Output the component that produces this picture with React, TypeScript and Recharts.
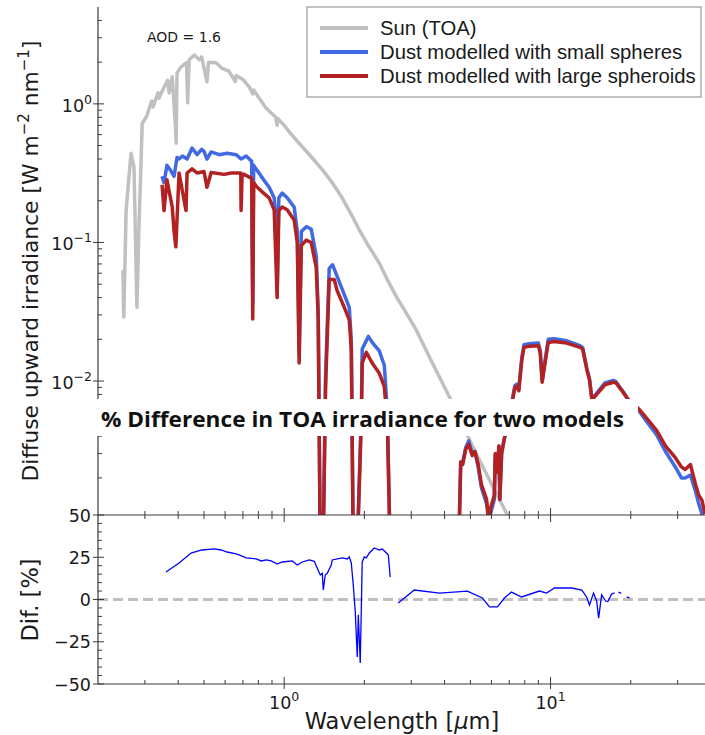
import React from "react";
import { LineChart, Line, XAxis, YAxis, ReferenceLine } from "recharts";

// wavelength [um], irradiance [W m-2 nm-1]
const sunTOA: [number, number][] = [
  [0.248, 0.063], [0.25, 0.029], [0.255, 0.17], [0.266, 0.44], [0.273, 0.35], [0.28, 0.034],
  [0.285, 0.13], [0.29, 0.37], [0.293, 0.72], [0.305, 0.82], [0.318, 1.05], [0.322, 0.95],
  [0.336, 1.2], [0.339, 1.1], [0.35, 1.26], [0.365, 1.48], [0.37, 1.2], [0.38, 1.57],
  [0.39, 0.73], [0.393, 0.52], [0.396, 1.67], [0.41, 1.85], [0.43, 1.98], [0.434, 1.02],
  [0.44, 2.08], [0.46, 2.25], [0.48, 2.08], [0.49, 2.18], [0.513, 1.44], [0.52, 2.0],
  [0.555, 1.98], [0.585, 1.8], [0.62, 1.72], [0.656, 1.45], [0.66, 1.6], [0.7, 1.5],
  [0.74, 1.32], [0.762, 1.18], [0.768, 1.26], [0.8, 1.12], [0.856, 0.93], [0.93, 0.8],
  [0.94, 0.7], [0.95, 0.78], [1.0, 0.7], [1.05, 0.62], [1.138, 0.52], [1.27, 0.41],
  [1.4, 0.33], [1.515, 0.27], [1.65, 0.21], [1.8, 0.155], [1.914, 0.123], [2.07, 0.095],
  [2.275, 0.071], [2.45, 0.053], [2.65, 0.04], [2.9, 0.03], [3.13, 0.0234], [3.6, 0.0135],
  [4.17, 0.0077], [4.6, 0.0052], [5.09, 0.0034], [5.9, 0.00193], [6.82, 0.00112], [7.5, 0.0008],
];

const smallSpheres: [number, number][] = [
  [0.348, 0.3], [0.354, 0.27], [0.363, 0.36], [0.375, 0.33], [0.386, 0.3], [0.396, 0.41],
  [0.403, 0.4], [0.415, 0.42], [0.432, 0.4], [0.451, 0.48], [0.471, 0.43], [0.49, 0.47],
  [0.5, 0.455], [0.513, 0.4], [0.532, 0.45], [0.57, 0.43], [0.61, 0.44], [0.66, 0.43],
  [0.689, 0.4], [0.72, 0.42], [0.755, 0.385], [0.762, 0.036], [0.768, 0.36], [0.792, 0.33],
  [0.841, 0.28], [0.878, 0.25], [0.917, 0.21], [0.93, 0.16], [0.941, 0.045], [0.955, 0.21],
  [0.983, 0.227], [1.026, 0.21], [1.09, 0.18], [1.12, 0.12], [1.138, 0.016], [1.16, 0.12],
  [1.21, 0.13], [1.263, 0.125], [1.319, 0.08], [1.342, 0.032], [1.366, 0.0006], [1.4, 0.0006],
  [1.43, 0.011], [1.476, 0.065], [1.52, 0.069], [1.58, 0.057], [1.681, 0.042], [1.755, 0.034],
  [1.786, 0.02], [1.817, 0.0006], [1.88, 0.0006], [1.948, 0.006], [1.963, 0.017], [2.07, 0.021],
  [2.14, 0.019], [2.275, 0.0165], [2.376, 0.013], [2.44, 0.006], [2.5, 0.0006], [4.52, 0.0006],
  [4.6, 0.0026], [4.68, 0.0026], [4.8, 0.0033], [4.93, 0.0037], [5.08, 0.003], [5.2, 0.0031],
  [5.35, 0.0024], [5.5, 0.0017], [5.75, 0.0013], [5.9, 0.0009], [5.95, 0.0011], [6.15, 0.0014],
  [6.2, 0.0029], [6.3, 0.0022], [6.4, 0.0034], [6.45, 0.0014], [6.55, 0.003], [6.7, 0.0038],
  [7.2, 0.0075], [7.35, 0.0093], [7.5, 0.0095], [7.6, 0.0088], [7.8, 0.0148], [7.95, 0.0183],
  [8.3, 0.0186], [9.0, 0.0188], [9.15, 0.0165], [9.3, 0.0101], [9.45, 0.0125], [9.8, 0.02],
  [10.3, 0.0202], [11.5, 0.0195], [12.9, 0.018], [13.2, 0.0174], [13.7, 0.0122], [14.0, 0.0104],
  [14.3, 0.0074], [16.0, 0.0097], [17.2, 0.0101], [17.6, 0.0099], [18.8, 0.0083], [19.5, 0.0074],
  [21.6, 0.006], [23.3, 0.0049], [25.0, 0.0041], [27.0, 0.0031], [29.4, 0.0024], [31.0, 0.002],
  [32.0, 0.002], [33.5, 0.0021], [35.0, 0.0016], [36.0, 0.0013], [37.0, 0.0011], [38.0, 0.0009],
];

const largeSpheroids: [number, number][] = [
  [0.348, 0.26], [0.354, 0.17], [0.363, 0.283], [0.38, 0.18], [0.386, 0.12], [0.392, 0.093],
  [0.403, 0.317], [0.428, 0.17], [0.432, 0.317], [0.451, 0.34], [0.471, 0.317], [0.5, 0.325],
  [0.513, 0.25], [0.532, 0.32], [0.595, 0.31], [0.632, 0.317], [0.687, 0.317], [0.689, 0.17],
  [0.695, 0.31], [0.707, 0.31], [0.755, 0.29], [0.762, 0.028], [0.768, 0.27], [0.792, 0.25],
  [0.841, 0.225], [0.878, 0.21], [0.917, 0.172], [0.941, 0.04], [0.955, 0.17], [0.983, 0.18],
  [1.026, 0.172], [1.09, 0.145], [1.12, 0.1], [1.138, 0.0135], [1.16, 0.095], [1.21, 0.104],
  [1.263, 0.1], [1.319, 0.066], [1.342, 0.0276], [1.366, 0.0006], [1.4, 0.0006], [1.43, 0.009],
  [1.476, 0.054], [1.541, 0.054], [1.58, 0.045], [1.681, 0.034], [1.755, 0.0276], [1.786, 0.017],
  [1.817, 0.0006], [1.88, 0.0006], [1.948, 0.005], [1.963, 0.0135], [2.034, 0.0161], [2.14, 0.0135],
  [2.275, 0.0114], [2.376, 0.0091], [2.44, 0.0048], [2.5, 0.0006], [4.52, 0.0006], [4.6, 0.0026],
  [4.68, 0.0025], [4.8, 0.0032], [4.93, 0.0035], [5.08, 0.0029], [5.2, 0.0031], [5.35, 0.0025],
  [5.5, 0.0018], [5.75, 0.0014], [5.9, 0.0009], [5.95, 0.0012], [6.15, 0.0015], [6.2, 0.003],
  [6.3, 0.0022], [6.4, 0.0034], [6.45, 0.0014], [6.55, 0.003], [6.7, 0.0038], [7.2, 0.0073],
  [7.35, 0.009], [7.5, 0.0092], [7.6, 0.0085], [7.8, 0.0142], [7.95, 0.0175], [8.3, 0.0178],
  [9.0, 0.018], [9.15, 0.0159], [9.3, 0.0098], [9.45, 0.012], [9.8, 0.019], [10.3, 0.0193],
  [11.5, 0.0188], [12.9, 0.0175], [13.2, 0.017], [13.7, 0.012], [14.0, 0.0102], [14.3, 0.0073],
  [16.0, 0.0094], [17.2, 0.0098], [17.6, 0.0097], [18.8, 0.0082], [19.5, 0.0074], [21.6, 0.0062],
  [23.3, 0.0052], [25.0, 0.0044], [27.0, 0.0034], [29.4, 0.0028], [31.0, 0.0024], [32.0, 0.0023],
  [33.5, 0.0025], [35.0, 0.0018], [36.0, 0.0015], [37.0, 0.00138], [38.0, 0.0011],
];

// % difference between the two models
const difference: [number, number | null][] = [
  [0.36, 16.3], [0.403, 21.6], [0.447, 27.5], [0.491, 29.3], [0.546, 29.9], [0.58, 29.3],
  [0.61, 28.1], [0.666, 26.9], [0.72, 24.6], [0.785, 24.0], [0.82, 22.8], [0.856, 23.4],
  [0.894, 22.8], [0.941, 21.0], [0.983, 22.2], [1.072, 22.8], [1.119, 20.4], [1.169, 22.2],
  [1.242, 23.4], [1.297, 22.6], [1.33, 18.6], [1.366, 14.5], [1.39, 15.5], [1.402, 5.6],
  [1.426, 14.5], [1.451, 15.5], [1.502, 20.4], [1.515, 23.4], [1.652, 24.6], [1.725, 24.0],
  [1.755, 25.2], [1.786, 21.6], [1.817, 8.6], [1.849, -7.4], [1.865, -21], [1.881, -34],
  [1.898, -9], [1.93, -37.6], [1.948, -5], [1.963, 22.2], [1.998, 25.2], [2.034, 24.6],
  [2.087, 27.5], [2.179, 30.5], [2.275, 29.3], [2.335, 29.9], [2.42, 27.5], [2.46, 26.3],
  [2.5, 13.3], [2.6, null],
  [2.68, -2.1], [3.08, 5.6], [3.83, 3.8], [4.87, 5.0], [5.55, 0.9], [5.9, -4.4], [6.32, -4.4],
  [6.71, 0.9], [7.13, 4.4], [7.78, 1.5], [9.09, 5.0], [9.66, 3.8], [10.35, 6.8], [12.0, 6.8],
  [13.1, 5.6], [13.66, 1.5], [14.0, -3.3], [14.5, 3.8], [14.9, -1.0], [15.15, -11], [15.55, 2.7],
  [16.1, -0.9], [16.4, -1.2], [16.96, 3.3], [17.4, 3.9], [17.8, null], [18.0, 4.4], [18.4, 3.6],
  [18.9, null], [19.3, 1.5], [19.8, 0.9],
];

const wavelengthTicks = [0.3, 0.4, 0.5, 0.6, 0.7, 0.8, 0.9, 1, 2, 3, 4, 5, 6, 7, 8, 9, 10, 20, 30];
const irradianceTicks = [
  0.002, 0.003, 0.004, 0.005, 0.006, 0.007, 0.008, 0.009,
  0.01, 0.02, 0.03, 0.04, 0.05, 0.06, 0.07, 0.08, 0.09,
  0.1, 0.2, 0.3, 0.4, 0.5, 0.6, 0.7, 0.8, 0.9,
  1, 2, 3, 4,
];
const differenceTicks = [-50, -45, -40, -35, -30, -25, -20, -15, -10, -5, 0, 5, 10, 15, 20, 25, 30, 35, 40, 45, 50];
const legendNames = ["Sun (TOA)", "Dust modelled with small spheres", "Dust modelled with large spheroids"];

const COLORS = { sun: "#c0c0c0", small: "#4169e1", large: "#b22222", dif: "#0000ff" };
const AX = "#3a3a3a";
const TXT = "#1a1a1a";
const MPL = "'DejaVu Sans', sans-serif";

const toRows = (pts: [number, number | null][]) => pts.map(([wl, v]) => ({ wl, v }));

const isDecade = (v: number) => Math.abs(Math.log10(v) - Math.round(Math.log10(v))) < 1e-6;
const fmtNum = (v: number) => (v < 0 ? "\u2212" + Math.abs(v) : String(v));

const PowerLabel = ({ x, y, exp, anchor }: { x: number; y: number; exp: number; anchor: "middle" | "end" }) => (
  <text x={x} y={y} textAnchor={anchor} fontFamily={MPL} fontSize={17.5} fill={TXT}>
    10
    <tspan dy={-8} fontSize={12.5}>{fmtNum(exp)}</tspan>
  </text>
);

// ticks on the top frame of the upper panel (pointing down, inward)
const WlTickTop = (p: any) => {
  const len = isDecade(p.payload.value) ? 7 : 4;
  return <line x1={p.x} x2={p.x} y1={p.y} y2={p.y + len} stroke={AX} strokeWidth={1} />;
};

// shared edge between the panels: inward ticks for both
const WlTickMid = (p: any) => {
  const len = isDecade(p.payload.value) ? 7 : 4;
  return <line x1={p.x} x2={p.x} y1={p.y - len} y2={p.y + len} stroke={AX} strokeWidth={1} />;
};

const WlTickBottom = (p: any) => {
  const major = isDecade(p.payload.value);
  return (
    <g>
      <line x1={p.x} x2={p.x} y1={p.y - (major ? 7 : 4)} y2={p.y + (major ? 5 : 0)} stroke={AX} strokeWidth={1} />
      {major && <PowerLabel x={p.x} y={p.y + 25} exp={Math.round(Math.log10(p.payload.value))} anchor="middle" />}
    </g>
  );
};

const IrrTick = (p: any) => {
  const major = isDecade(p.payload.value);
  return (
    <g>
      <line x1={p.x - (major ? 5 : 0)} x2={p.x + (major ? 6 : 4)} y1={p.y} y2={p.y} stroke={AX} strokeWidth={1} />
      {major && <PowerLabel x={p.x - 6} y={p.y + 8} exp={Math.round(Math.log10(p.payload.value))} anchor="end" />}
    </g>
  );
};

const DifTick = (p: any) => {
  const v = p.payload.value;
  const major = v % 25 === 0;
  return (
    <g>
      <line x1={p.x - (major ? 5 : 0)} x2={p.x + (major ? 6 : 4)} y1={p.y} y2={p.y} stroke={AX} strokeWidth={1} />
      {major && (
        <text x={p.x - 7} y={p.y + 6.5} textAnchor="end" fontFamily={MPL} fontSize={17.5} fill={TXT}>
          {fmtNum(v)}
        </text>
      )}
    </g>
  );
};

const W = 705;
const WL_DOMAIN: [number, number] = [0.2, 38];

export default function App() {
  const sunRows = toRows(sunTOA);
  const smallRows = toRows(smallSpheres);
  const largeRows = toRows(largeSpheroids);
  const difRows = toRows(difference);
  const legendColors = [COLORS.sun, COLORS.small, COLORS.large];

  return (
    <div style={{ position: "absolute", left: 0, top: 0, width: W, height: 735, background: "#fff", overflow: "hidden" }}>
      {/* upper panel: irradiance */}
      <div style={{ position: "absolute", left: 0, top: 0 }}>
        <LineChart width={W} height={525} margin={{ top: 7, right: 0, bottom: 0, left: 0 }}>
          <XAxis
            xAxisId="top"
            orientation="top"
            dataKey="wl"
            type="number"
            scale="log"
            domain={WL_DOMAIN}
            allowDataOverflow
            ticks={wavelengthTicks}
            height={0}
            tickSize={0}
            tickMargin={0}
            tick={WlTickTop}
            axisLine={{ stroke: AX, strokeWidth: 1.2 }}
            tickLine={false}
            interval={0}
          />
          <XAxis
            dataKey="wl"
            type="number"
            scale="log"
            domain={WL_DOMAIN}
            allowDataOverflow
            ticks={wavelengthTicks}
            height={10}
            tickSize={0}
            tickMargin={0}
            tick={WlTickMid}
            axisLine={{ stroke: AX, strokeWidth: 1.2 }}
            tickLine={false}
            interval={0}
          />
          <YAxis
            type="number"
            scale="log"
            domain={[0.00108, 5]}
            allowDataOverflow
            ticks={irradianceTicks}
            width={98}
            tickSize={0}
            tickMargin={0}
            tick={IrrTick}
            axisLine={{ stroke: AX, strokeWidth: 1.2 }}
            tickLine={false}
            interval={0}
          />
          <Line data={sunRows} dataKey="v" stroke={COLORS.sun} strokeWidth={3.5} dot={false} isAnimationActive={false} strokeLinejoin="round" />
          <Line data={smallRows} dataKey="v" stroke={COLORS.small} strokeWidth={3.5} dot={false} isAnimationActive={false} strokeLinejoin="round" />
          <Line data={largeRows} dataKey="v" stroke={COLORS.large} strokeWidth={3.5} dot={false} isAnimationActive={false} strokeLinejoin="round" />
        </LineChart>
      </div>

      {/* lower panel: difference */}
      <div style={{ position: "absolute", left: 0, top: 495 }}>
        <LineChart width={W} height={240} margin={{ top: 20, right: 0, bottom: 0, left: 0 }}>
          <XAxis
            dataKey="wl"
            type="number"
            scale="log"
            domain={WL_DOMAIN}
            allowDataOverflow
            ticks={wavelengthTicks}
            height={51}
            tickSize={0}
            tickMargin={0}
            tick={WlTickBottom}
            axisLine={{ stroke: AX, strokeWidth: 1.2 }}
            tickLine={false}
            interval={0}
          />
          <YAxis
            type="number"
            domain={[-50, 50]}
            ticks={differenceTicks}
            width={98}
            tickSize={0}
            tickMargin={0}
            tick={DifTick}
            axisLine={{ stroke: AX, strokeWidth: 1.2 }}
            tickLine={false}
            interval={0}
          />
          <ReferenceLine y={0} stroke="#c0c0c0" strokeWidth={3} strokeDasharray="10 5" />
          <Line data={difRows} dataKey="v" stroke={COLORS.dif} strokeWidth={1.3} dot={false} isAnimationActive={false} />
        </LineChart>
      </div>

      {/* titles, legend and annotations */}
      <svg width={W} height={735} style={{ position: "absolute", left: 0, top: 0, pointerEvents: "none" }}>
        <text transform="translate(38,261) rotate(-90)" textAnchor="middle" fontFamily={MPL} fontSize={21.8} fill={TXT}>
          Diffuse upward irradiance [W m
          <tspan dy={-9} fontSize={15}>{"\u22122"}</tspan>
          <tspan dy={9}> nm</tspan>
          <tspan dy={-9} fontSize={15}>{"\u22121"}</tspan>
          <tspan dy={9}>]</tspan>
        </text>
        <text transform="translate(38,600) rotate(-90)" textAnchor="middle" fontFamily={MPL} fontSize={22.5} fill={TXT}>
          Dif. [%]
        </text>
        <text x={402} y={729} textAnchor="middle" fontFamily={MPL} fontSize={22.5} fill={TXT}>
          Wavelength [<tspan fontStyle="italic">μ</tspan>m]
        </text>

        <text x={147} y={42} fontFamily={MPL} fontSize={14} fill={TXT}>AOD = 1.6</text>

        <rect x={307} y={7} width={394} height={90} fill="#fff" stroke="#999" strokeWidth={1.2} />
        {legendNames.map((name, i) => (
          <g key={name}>
            <line x1={320} x2={368} y1={28 + i * 24} y2={28 + i * 24} stroke={legendColors[i]} strokeWidth={4} />
            <text x={380} y={28 + i * 24 + 7} fontFamily="'Liberation Sans', Arial, sans-serif" fontSize={20.3} fill={TXT}>
              {name}
            </text>
          </g>
        ))}

        <rect x={96} y={399} width={542} height={37} fill="#fff" />
        <text x={101} y={427} fontFamily="'Open Sans', sans-serif" fontWeight={700} fontSize={21.5} fill="#111" textLength={523} lengthAdjust="spacingAndGlyphs">
          % Difference in TOA irradiance for two models
        </text>
      </svg>
    </div>
  );
}
